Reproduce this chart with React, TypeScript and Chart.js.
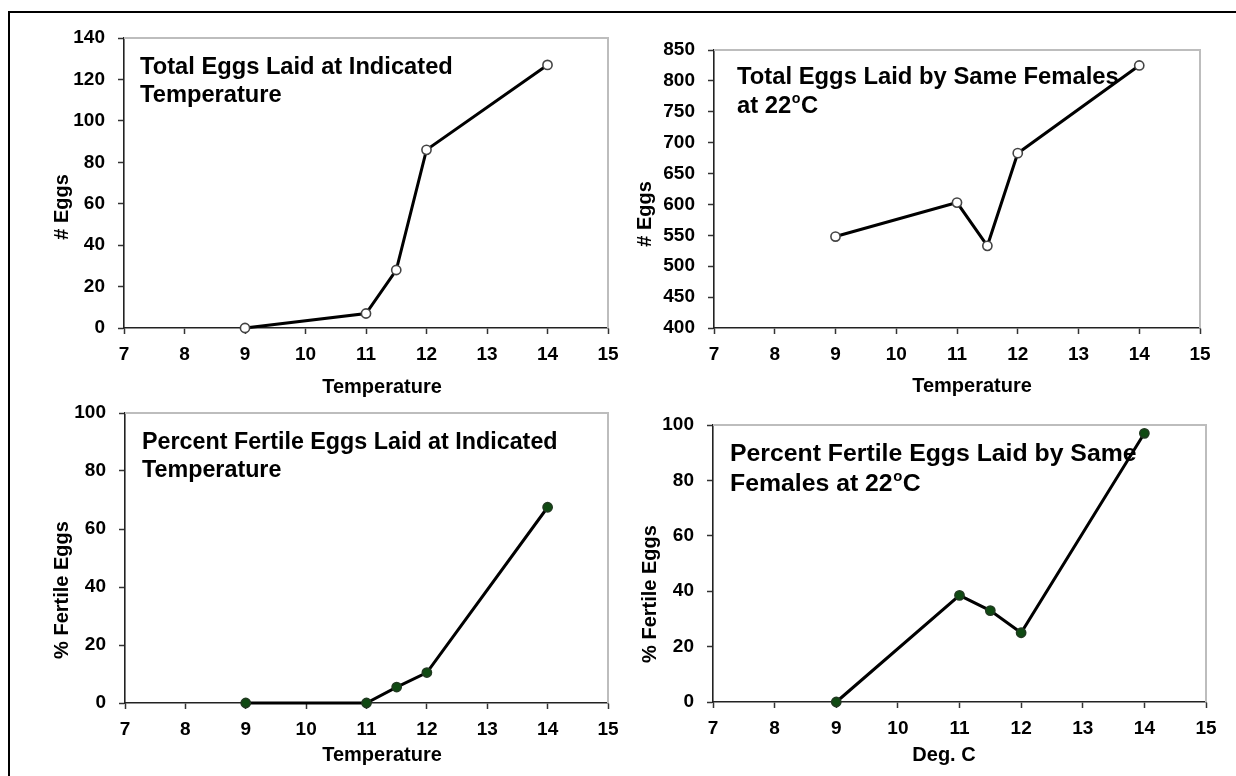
import React, { useEffect, useRef } from "react";
import { Chart, registerables } from "chart.js";

Chart.register(...registerables);

// ---------------- data ----------------
const temperatures = [9, 11, 11.5, 12, 14];
const totalEggsIndicated = [0, 7, 28, 86, 127];
const totalEggsSameFemales = [548, 603, 533, 683, 825];
const fertileIndicated = [0, 0, 5.5, 10.5, 67.5];
const fertileSameFemales = [0, 38.5, 33, 25, 97];

const xTicks = [7, 8, 9, 10, 11, 12, 13, 14, 15];
const eggsTicks = [0, 20, 40, 60, 80, 100, 120, 140];
const eggs22Ticks = [400, 450, 500, 550, 600, 650, 700, 750, 800, 850];
const pctTicks = [0, 20, 40, 60, 80, 100];

const title1 = ["Total Eggs Laid at Indicated", "Temperature"];
const title2 = ["Total Eggs Laid by Same Females", "at 22°C"];
const title3 = ["Percent Fertile Eggs Laid at Indicated", "Temperature"];
const title4 = ["Percent Fertile Eggs Laid by Same", "Females at 22°C"];

const yLabelEggs = "# Eggs";
const yLabelPct = "% Fertile Eggs";
const xLabelTemp = "Temperature";
const xLabelDeg = "Deg. C";

// ---------------- styling / layout ----------------
const FONT = '"Liberation Sans", Arial, Helvetica, sans-serif';
const TICK_SIZE = 19;
const AXIS_TITLE_SIZE = 20;

type Panel = {
  canvas: { x: number; y: number; w: number; h: number };
  plot: { l: number; t: number; r: number; b: number };
  values: number[];
  yTicks: number[];
  title: string[];
  titleX: number;
  titleBase: number[];
  titleSize: number;
  yLabel: string;
  yLabelPos: [number, number];
  xLabel: string;
  xLabelPos: [number, number];
  filled: boolean;
};

const panels: Panel[] = [
  {
    canvas: { x: 0, y: 0, w: 620, h: 400 },
    plot: { l: 124, t: 38, r: 608, b: 328 },
    values: totalEggsIndicated,
    yTicks: eggsTicks,
    title: title1,
    titleX: 140,
    titleBase: [74, 101.5],
    titleSize: 23.7,
    yLabel: yLabelEggs,
    yLabelPos: [62, 207],
    xLabel: xLabelTemp,
    xLabelPos: [382, 392.5],
    filled: false,
  },
  {
    canvas: { x: 620, y: 0, w: 616, h: 400 },
    plot: { l: 714, t: 50, r: 1200, b: 328 },
    values: totalEggsSameFemales,
    yTicks: eggs22Ticks,
    title: title2,
    titleX: 737,
    titleBase: [83.5, 112.5],
    titleSize: 23.8,
    yLabel: yLabelEggs,
    yLabelPos: [645, 214],
    xLabel: xLabelTemp,
    xLabelPos: [972, 391.5],
    filled: false,
  },
  {
    canvas: { x: 0, y: 400, w: 620, h: 376 },
    plot: { l: 125, t: 413, r: 608, b: 703 },
    values: fertileIndicated,
    yTicks: pctTicks,
    title: title3,
    titleX: 142,
    titleBase: [448.5, 476.5],
    titleSize: 23.3,
    yLabel: yLabelPct,
    yLabelPos: [62, 590],
    xLabel: xLabelTemp,
    xLabelPos: [382, 761],
    filled: true,
  },
  {
    canvas: { x: 620, y: 400, w: 616, h: 376 },
    plot: { l: 713, t: 425, r: 1206, b: 702 },
    values: fertileSameFemales,
    yTicks: pctTicks,
    title: title4,
    titleX: 730,
    titleBase: [461, 490.5],
    titleSize: 24.8,
    yLabel: yLabelPct,
    yLabelPos: [650, 594],
    xLabel: xLabelDeg,
    xLabelPos: [944, 761],
    filled: true,
  },
];

function drawRich(ctx: CanvasRenderingContext2D, text: string, x: number, y: number, size: number) {
  const parts = text.split("°");
  let cx = x;
  parts.forEach((p, i) => {
    if (i > 0) {
      const s = size * 0.6;
      ctx.font = `bold ${s}px ${FONT}`;
      ctx.fillText("o", cx + 0.5, y - size * 0.4);
      cx += ctx.measureText("o").width + 1;
    }
    ctx.font = `bold ${size}px ${FONT}`;
    ctx.fillText(p, cx, y);
    cx += ctx.measureText(p).width;
  });
}

function ChartPanel({ p }: { p: Panel }) {
  const ref = useRef<HTMLCanvasElement | null>(null);
  useEffect(() => {
    const canvas = ref.current;
    if (!canvas) return;
    const ox = p.canvas.x;
    const oy = p.canvas.y;
    const overlay = {
      id: "overlay" + ox + "_" + oy,
      beforeDatasetsDraw(chart: any) {
        const { ctx, chartArea: a } = chart;
        ctx.save();
        ctx.strokeStyle = "#bdbdbd";
        ctx.lineWidth = 2;
        ctx.beginPath();
        ctx.moveTo(a.left, a.top);
        ctx.lineTo(a.right, a.top);
        ctx.lineTo(a.right, a.bottom);
        ctx.stroke();

        ctx.fillStyle = "#000";
        ctx.textAlign = "left";
        ctx.textBaseline = "alphabetic";
        p.title.forEach((line, i) => {
          drawRich(ctx, line, p.titleX - ox, p.titleBase[i] - oy, p.titleSize);
        });

        ctx.font = `bold ${AXIS_TITLE_SIZE}px ${FONT}`;
        ctx.textAlign = "center";
        ctx.fillText(p.xLabel, p.xLabelPos[0] - ox, p.xLabelPos[1] - oy);

        ctx.translate(p.yLabelPos[0] - ox, p.yLabelPos[1] - oy);
        ctx.rotate(-Math.PI / 2);
        ctx.textBaseline = "middle";
        ctx.fillText(p.yLabel, 0, 0);
        ctx.restore();
      },
    };

    const yW = p.plot.l - p.canvas.x;
    const xH = p.canvas.y + p.canvas.h - p.plot.b;
    const padTop = p.plot.t - p.canvas.y;
    const padRight = p.canvas.x + p.canvas.w - p.plot.r;

    const tickFont = { family: FONT, size: TICK_SIZE, weight: "bold" as const };

    const chart = new Chart(canvas, {
      type: "line",
      data: {
        datasets: [
          {
            data: temperatures.map((t, i) => ({ x: t, y: p.values[i] })),
            borderColor: "#000",
            borderWidth: 3,
            tension: 0,
            pointRadius: 4.6,
            pointBorderWidth: 1.6,
            pointBackgroundColor: p.filled ? "#0f4a12" : "#ffffff",
            pointBorderColor: p.filled ? "#203a20" : "#444",
            clip: false as any,
          },
        ],
      },
      options: {
        animation: false,
        responsive: false,
        devicePixelRatio: 1,
        events: [],
        layout: { padding: { left: 0, top: padTop, right: padRight, bottom: 0 } },
        plugins: { legend: { display: false }, tooltip: { enabled: false }, title: { display: false } },
        scales: {
          x: {
            type: "linear",
            min: xTicks[0],
            max: xTicks[xTicks.length - 1],
            afterBuildTicks: (s: any) => {
              s.ticks = xTicks.map((v) => ({ value: v }));
            },
            afterFit: (s: any) => {
              s.height = xH;
              s.paddingLeft = 0;
              s.paddingRight = 0;
            },
            ticks: { color: "#000", font: tickFont, padding: 9, autoSkip: false, maxRotation: 0 },
            grid: { display: true, drawOnChartArea: false, drawTicks: true, tickLength: 6, tickColor: "#333", tickWidth: 1.5 },
            border: { display: true, color: "#222", width: 1.6 },
          },
          y: {
            type: "linear",
            min: p.yTicks[0],
            max: p.yTicks[p.yTicks.length - 1],
            afterBuildTicks: (s: any) => {
              s.ticks = p.yTicks.map((v) => ({ value: v }));
            },
            afterFit: (s: any) => {
              s.width = yW;
              s.paddingTop = 0;
              s.paddingBottom = 0;
            },
            ticks: { color: "#000", font: tickFont, padding: 13 },
            grid: { display: true, drawOnChartArea: false, drawTicks: true, tickLength: 6, tickColor: "#333", tickWidth: 1.5 },
            border: { display: true, color: "#222", width: 1.6 },
          },
        },
      },
      plugins: [overlay],
    });
    return () => chart.destroy();
  }, [p]);

  return (
    <canvas
      ref={ref}
      width={p.canvas.w}
      height={p.canvas.h}
      style={{ position: "absolute", left: p.canvas.x, top: p.canvas.y, width: p.canvas.w, height: p.canvas.h }}
    />
  );
}

export default function App() {
  return (
    <div
      style={{
        position: "fixed",
        left: 0,
        top: 0,
        width: 1236,
        height: 776,
        background: "#ffffff",
        overflow: "hidden",
      }}
    >
      <div
        style={{
          position: "absolute",
          left: 8,
          top: 11,
          width: 1300,
          height: 800,
          borderLeft: "2px solid #000",
          borderTop: "2px solid #000",
        }}
      />
      {panels.map((p, i) => (
        <ChartPanel key={i} p={p} />
      ))}
    </div>
  );
}
